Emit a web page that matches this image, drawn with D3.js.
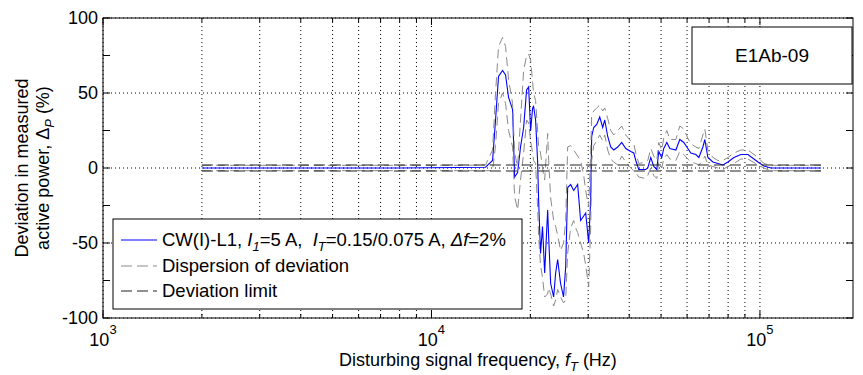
<!DOCTYPE html>
<html><head><meta charset="utf-8">
<script src="https://cdn.jsdelivr.net/npm/d3@7"></script>
<style>body{margin:0;background:#fff}svg{display:block;font-family:"Liberation Sans",Arial,sans-serif}</style>
</head><body><div id="c"></div>
<script>
const freq = [2000,4000,8000,12000,14610,15346,15670,16000,16460,16810,17170,17660,17910,18290,18670,19080,19480,19760,20040,20320,20460,20750,21040,21190,21480,21780,22110,22580,22740,23060,23550,23880,24220,24720,25240,25620,25980,26530,27100,27480,27860,28450,29070,29480,30100,30530,30740,31190,31850,32530,33210,33690,34400,35130,35890,36900,37950,39040,40440,41300,41880,42760,44910,45550,46520,47510,48520,49200,50240,50950,52060,53170,55460,57030,58640,60310,61590,63820,65170,67020,67960,69410,71900,74470,77130,79890,83320,87500,91920,98630,102800,108000,124300,153500];
const deviation = [0,0,0,0.3,0.5,5,32,61,65,62,47,39,-6,-3,14,27,52,54,25,40,41,32,5,-21,-57,-39,-70,-28,-46,-77,-86,-70,-61,-77,-86,-66,-13,-11,-15,-13,-11,-35,-32,-30,-50,-21,21,27,29,34,27,32,21,14,12,14,17,13,11,10,5,-1,-1,0,7,1,-1,11,7,13,17,13,12,19,17,13,10,9,7,14,19,7,4,3,2,4,7,9,9,4,1.3,0,0,0];
const upperDisp = [1.8,1.8,1.8,1.8,2,12,50,81,87,81,59,43,10,1,32,65,75,76,72,57,50,45,25,15,10,0,-8,23,5,-20,-35,-39,-45,-55,-50,-35,14,15,12,10,8,5,-5,-15,-26,10,35,38,40,42,38,40,33,25,22,25,28,22,18,16,10,3,4,5,13,8,5,17,12,20,25,19,19,28,26,20,16,14,13,22,26,12,7,5,5,7,10,12,12,7,3,1.8,1.8,1.8];
const lowerDisp = [-1.8,-1.8,-1.8,-1.8,-1.8,-1.8,15,43,50,43,25,14,-19,-28,-8,10,32,30,18,10,5,3,-26,-45,-65,-73,-86,-84,-80,-84,-92,-88,-81,-86,-90,-88,-57,-40,-35,-40,-43,-50,-57,-65,-79,-40,5,15,18,22,18,22,12,6,4,2,8,4,0,-2,-3,-6,-7,-5,0,-5,-7,4,0,6,9,6,5,11,9,6,4,3,2,5,8,2,1,0,-1,1,3,6,6,2,0,-1.8,-1.8,-1.8];
const limitFreq = [2000,153500];
const limitUpper = [2,2];
const limitLower = [-2,-2];
const yTicks = [-100,-75,-50,-25,0,25,50,75,100];
const yGrid = [-100,-50,0,50,100];
const yLabels = [-100,-50,0,50,100];
const xMajor = [1000,10000,100000];
const xDomain = [1000,192000];

const W=863,H=375, L=103,R=853,T=18,B=318, FS=18;
const svg=d3.select("#c").append("svg").attr("width",W).attr("height",H);
const x=d3.scaleLog().domain(xDomain).range([L,R]);
const y=d3.scaleLinear().domain([-100,100]).range([B,T]);

const xMinor=[];
for(let e=3;e<=5;e++){for(let m=1;m<=9;m++){const v=m*Math.pow(10,e); if(v>=xDomain[0]&&v<=xDomain[1]) xMinor.push(v);}}

const g=svg.append("g");
g.selectAll(".vg").data(xMinor).join("line").attr("x1",d=>x(d)).attr("x2",d=>x(d)).attr("y1",T).attr("y2",B)
 .attr("stroke","#000").attr("stroke-width",1).attr("stroke-dasharray","1,3");
g.selectAll(".hg").data(yGrid).join("line").attr("x1",L).attr("x2",R).attr("y1",d=>y(d)).attr("y2",d=>y(d))
 .attr("stroke","#000").attr("stroke-width",1).attr("stroke-dasharray","1,3");

g.append("rect").attr("x",L).attr("y",T).attr("width",R-L).attr("height",B-T).attr("fill","none").attr("stroke","#000").attr("stroke-width",1);

xMinor.forEach(v=>{
  const len = xMajor.includes(v)?7:4;
  g.append("line").attr("x1",x(v)).attr("x2",x(v)).attr("y1",B).attr("y2",B-len).attr("stroke","#000");
  g.append("line").attr("x1",x(v)).attr("x2",x(v)).attr("y1",T).attr("y2",T+len).attr("stroke","#000");
});
yTicks.forEach(v=>{
  g.append("line").attr("x1",L).attr("x2",L+7).attr("y1",y(v)).attr("y2",y(v)).attr("stroke","#000");
  g.append("line").attr("x1",R).attr("x2",R-7).attr("y1",y(v)).attr("y2",y(v)).attr("stroke","#000");
});

g.selectAll(".yl").data(yLabels).join("text").attr("x",L-5).attr("y",d=>y(d)+6).attr("text-anchor","end")
 .attr("font-size",FS).text(d=>d);
xMajor.forEach(v=>{
  const e=Math.round(Math.log10(v));
  const t=g.append("text").attr("x",x(v)).attr("y",346).attr("text-anchor","middle").attr("font-size",FS);
  t.append("tspan").text("10");
  t.append("tspan").attr("dy",-12).attr("font-size",13).text(e);
});

const xt=g.append("text").attr("x",478).attr("y",366).attr("text-anchor","middle").attr("font-size",FS);
xt.append("tspan").text("Disturbing signal frequency, ");
xt.append("tspan").attr("font-style","italic").text("f");
xt.append("tspan").attr("font-style","italic").attr("font-size",13).attr("dy",5).text("T");
xt.append("tspan").attr("dy",-5).text(" (Hz)");

g.append("text").attr("transform","translate(28,168) rotate(-90)").attr("text-anchor","middle").attr("font-size",FS)
 .text("Deviation in measured");
const yt2=g.append("text").attr("transform","translate(49,168) rotate(-90)").attr("text-anchor","middle").attr("font-size",FS);
yt2.append("tspan").text("active power, \u0394");
yt2.append("tspan").attr("font-style","italic").attr("font-size",13).attr("dy",5).text("P");
yt2.append("tspan").attr("dy",-5).text(" (%)");

const mk=vals=>d3.line().x((d,i)=>x(freq[i])).y((d)=>y(d))(vals);
svg.append("clipPath").attr("id","cp").append("rect").attr("x",L).attr("y",T).attr("width",R-L).attr("height",B-T);
const dg=svg.append("g").attr("clip-path","url(#cp)");
const lim=d3.line().x((d,i)=>x(limitFreq[i])).y(d=>y(d));
dg.append("path").attr("d",mk(deviation)).attr("fill","none").attr("stroke","#0000ff").attr("stroke-width",1.1);
dg.append("path").attr("d",mk(upperDisp)).attr("fill","none").attr("stroke","#8a8a8a").attr("stroke-width",1).attr("stroke-dasharray","9,5");
dg.append("path").attr("d",mk(lowerDisp)).attr("fill","none").attr("stroke","#8a8a8a").attr("stroke-width",1).attr("stroke-dasharray","9,5");
dg.append("path").attr("d",lim(limitUpper)).attr("fill","none").attr("stroke","#222").attr("stroke-width",1.2).attr("stroke-dasharray","11,5");
dg.append("path").attr("d",lim(limitLower)).attr("fill","none").attr("stroke","#222").attr("stroke-width",1.2).attr("stroke-dasharray","11,5");

const lg=svg.append("g");
lg.append("rect").attr("x",113).attr("y",219).attr("width",409).attr("height",90).attr("fill","#fff").attr("stroke","#000");
const rows=[{y:240,c:"#0000ff",dash:null},{y:266,c:"#8a8a8a",dash:"11,5"},{y:291,c:"#222",dash:"11,5"}];
rows.forEach(r=>{
  lg.append("line").attr("x1",121).attr("x2",157).attr("y1",r.y).attr("y2",r.y).attr("stroke",r.c).attr("stroke-dasharray",r.dash);
});
const LFS=18.5;
const t1=lg.append("text").attr("x",162).attr("y",246).attr("font-size",LFS).attr("xml:space","preserve");
t1.append("tspan").text("CW(I)-L1, ");
t1.append("tspan").attr("font-style","italic").text("I");
t1.append("tspan").attr("font-style","italic").attr("font-size",13).attr("dy",5).text("1");
t1.append("tspan").attr("dy",-5).text("=5 A,\u00a0 ");
t1.append("tspan").attr("font-style","italic").text("I");
t1.append("tspan").attr("font-style","italic").attr("font-size",13).attr("dy",5).text("T");
t1.append("tspan").attr("dy",-5).text("=0.15/0.075 A, ");
t1.append("tspan").attr("font-style","italic").text("\u0394f");
t1.append("tspan").text("=2%");
lg.append("text").attr("x",162).attr("y",272).attr("font-size",LFS).text("Dispersion of deviation");
lg.append("text").attr("x",162).attr("y",297).attr("font-size",LFS).text("Deviation limit");

svg.append("rect").attr("x",692).attr("y",27).attr("width",160).attr("height",57).attr("fill","#fff").attr("stroke","#000");
svg.append("text").attr("x",772).attr("y",62).attr("text-anchor","middle").attr("font-size",19).text("E1Ab-09");
</script></body></html>
